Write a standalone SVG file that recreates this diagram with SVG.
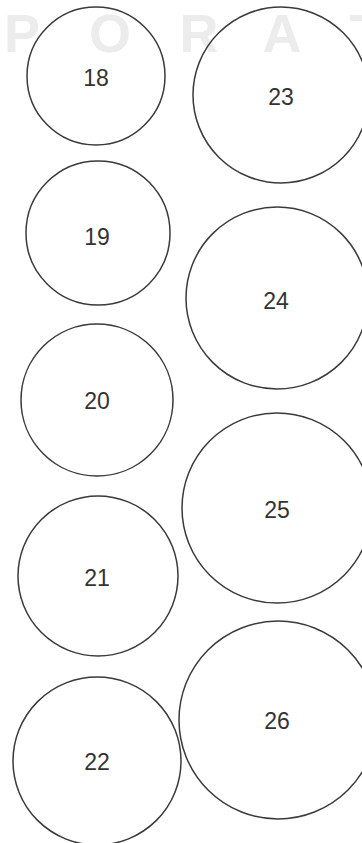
<svg xmlns="http://www.w3.org/2000/svg" width="362" height="843" viewBox="0 0 362 843">
<style>
.wm{font-family:"Liberation Sans",Arial,sans-serif;font-size:54px;font-weight:bold;fill:#ececec;text-anchor:middle}
.n circle{fill:none;stroke:#3a3a3a;stroke-width:1.5}
.n text{font-family:"Liberation Sans",Arial,sans-serif;font-size:23px;fill:#333;text-anchor:middle}
</style>
<rect width="362" height="843" fill="#fff"/>
<g id="watermark">
<text class="wm" x="22" y="52">P</text>
<text class="wm" x="110" y="52">O</text>
<text class="wm" x="199" y="52">R</text>
<text class="wm" x="282" y="52">A</text>
<text class="wm" x="366" y="52">T</text>
</g>
<g id="connectors"></g>
<g id="n18" class="n"><circle cx="96" cy="76" r="69"/><text x="96" y="86">18</text></g>
<g id="n19" class="n"><circle cx="98" cy="233" r="72"/><text x="97" y="245">19</text></g>
<g id="n20" class="n"><circle cx="97" cy="400" r="76"/><text x="97" y="409">20</text></g>
<g id="n21" class="n"><circle cx="98" cy="576" r="80"/><text x="97" y="586">21</text></g>
<g id="n22" class="n"><circle cx="97" cy="761" r="84"/><text x="97" y="770">22</text></g>
<g id="n23" class="n"><circle cx="281" cy="95" r="88"/><text x="281" y="105">23</text></g>
<g id="n24" class="n"><circle cx="277" cy="298" r="91"/><text x="276" y="309">24</text></g>
<g id="n25" class="n"><circle cx="277" cy="508" r="95"/><text x="277" y="518">25</text></g>
<g id="n26" class="n"><circle cx="278" cy="720" r="99"/><text x="277" y="729">26</text></g>
</svg>
